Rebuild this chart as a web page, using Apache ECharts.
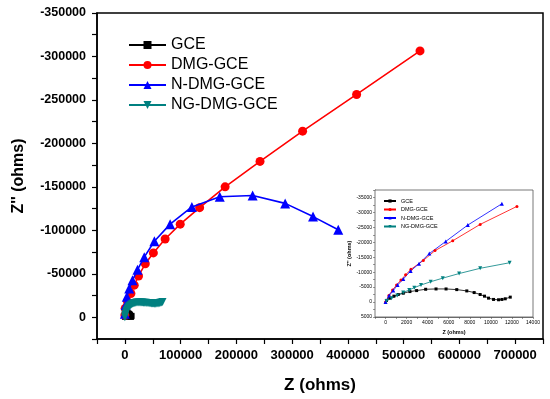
<!DOCTYPE html>
<html><head><meta charset="utf-8">
<script src="https://cdn.jsdelivr.net/npm/echarts@6/dist/echarts.min.js"></script>
<style>html,body{margin:0;padding:0;background:#fff}#c{width:550px;height:399px}</style>
</head><body><div id="c"></div>
<script>
const seriesNames = ['GCE', 'DMG-GCE', 'N-DMG-GCE', 'NG-DMG-GCE'];
const colors = ['#000000', '#ff0000', '#0000ff', '#008080'];
// [Z, Z''] pairs (main chart)
const gceMain = [[95,-548],[413,-1316],[794,-1974],[1206,-2522],[1683,-2961],[2317,-3509],[2952,-3838],[3810,-4276],[4794,-4386],[5746,-4386],[6762,-4167],[7714,-3728],[8413,-3180],[8984,-2522],[9397,-1974],[9778,-1316],[10254,-877],[10730,-768],[11048,-877],[11365,-1096],[11841,-1645]];
const dmgMain = [[0,-2500],[500,-10300],[4700,-17900],[10800,-27300],[16800,-36900],[24500,-47500],[36600,-61500],[51100,-74000],[72200,-90000],[99300,-107100],[134100,-126100],[179800,-150000],[242400,-179300],[318800,-214100],[415700,-256300],[529400,-306400]];
const ndmgMain = [[0,-4000],[1500,-14100],[3500,-23600],[7800,-33000],[13700,-42600],[22700,-54700],[34800,-69100],[52900,-87400],[81200,-107100],[120200,-126900],[170200,-138600],[229200,-140100],[287500,-131000],[337500,-115800],[382700,-100700]];
const ngdmgMain = [[0,0],[500,-2000],[1000,-3500],[2000,-5500],[3000,-7200],[4000,-8600],[5000,-10000],[6500,-11500],[8000,-12700],[9500,-13600],[11500,-14700],[13500,-15500],[15500,-16000],[17500,-16400],[19500,-16700],[21500,-16900],[23500,-17000],[25500,-17000],[27500,-17000],[29500,-17000],[31500,-16900],[33500,-16800],[35500,-16700],[37500,-16600],[39500,-16400],[41500,-16300],[43500,-16100],[45500,-16000],[47500,-15900],[49500,-15800],[51500,-15700],[53500,-15600],[55500,-15600],[57500,-15700],[59500,-15900],[61500,-16200],[63500,-16600],[65500,-17000],[67500,-17500]];
// inset chart data
const gceInset = gceMain;
const dmgInset = [[0,0],[317,-2193],[667,-4057],[1048,-5702],[1460,-7346],[1905,-9100],[2413,-10965],[3587,-13925],[4698,-17215],[6381,-20504],[8984,-25987],[12476,-32018]];
const ndmgInset = [[0,0],[349,-2193],[730,-3838],[1143,-5702],[1683,-7675],[2381,-10417],[3175,-12829],[4159,-16228],[5714,-20285],[7810,-25768],[11048,-32895]];
const ngdmgInset = [[95,-329],[571,-1316],[1111,-2193],[1683,-3180],[2254,-4057],[2730,-4825],[3365,-5702],[4286,-6798],[5429,-8004],[6984,-9539],[8984,-11294],[11778,-13158]];
const symbols = ['rect', 'circle', 'triangle', 'path://M0,0 L10,0 L5,10 Z'];

const FONT = 'Liberation Sans';
const chart = echarts.init(document.getElementById('c'), null, {renderer: 'canvas'});

const mainData = [gceMain, dmgMain, ndmgMain, ngdmgMain];
const insetData = [gceInset, dmgInset, ndmgInset, ngdmgInset];
const mainSizes = [6, 9, 10, 8];
const insetSizes = [3, 3, 4, 4];

const series = [];
mainData.forEach((d, i) => series.push({
  name: seriesNames[i], type: 'line', xAxisIndex: 0, yAxisIndex: 0, data: d,
  symbol: symbols[i], symbolSize: mainSizes[i], showSymbol: true,
  lineStyle: {color: colors[i], width: 1.6}, itemStyle: {color: colors[i]},
  animation: false, z: 3 + i
}));
insetData.forEach((d, i) => series.push({
  name: seriesNames[i], type: 'line', xAxisIndex: 1, yAxisIndex: 1, data: d,
  symbol: symbols[i], symbolSize: insetSizes[i], showSymbol: true,
  lineStyle: {color: colors[i], width: 0.8}, itemStyle: {color: colors[i]},
  animation: false, z: 10
}));

chart.setOption({
  backgroundColor: '#fff',
  animation: false,
  textStyle: {fontFamily: FONT},
  grid: [
    {left: 97, right: 7, top: 13, bottom: 57, show: true, borderColor: '#000', borderWidth: 1.5, backgroundColor: 'transparent'},
    {left: 375, top: 190, width: 158, height: 127, show: true, borderColor: '#555', borderWidth: 0.8, backgroundColor: '#fff', z: 5}
  ],
  legend: [
    {orient: 'vertical', left: 128, top: 37, padding: 0, itemWidth: 37, itemHeight: 10, itemGap: 4,
     data: seriesNames, textStyle: {fontSize: 16, color: '#000', fontFamily: FONT}, selectedMode: false},
    {orient: 'vertical', left: 378, top: 193, itemWidth: 12, itemHeight: 4, itemGap: 2.5, z: 20,
     data: seriesNames, textStyle: {fontSize: 5.5, color: '#000', fontFamily: FONT}, selectedMode: false}
  ],
  xAxis: [
    {type: 'value', gridIndex: 0, min: -50000, max: 750000, interval: 50000,
     name: 'Z (ohms)', nameLocation: 'middle', nameGap: 38,
     nameTextStyle: {fontSize: 17, fontWeight: 'bold', color: '#000', fontFamily: FONT},
     axisLine: {onZero: false, lineStyle: {color: '#000', width: 1.5}},
     axisTick: {inside: false, length: 5, lineStyle: {color: '#000', width: 1.2}},
     axisLabel: {margin: 10, fontSize: 13, fontWeight: 'bold', color: '#000', fontFamily: FONT,
       formatter: v => (v >= 0 && v % 100000 === 0) ? String(v) : ''},
     splitLine: {show: false}},
    {type: 'value', gridIndex: 1, min: -1000, max: 14000, interval: 1000,
     name: 'Z (ohms)', nameLocation: 'middle', nameGap: 12,
     nameTextStyle: {fontSize: 5.5, fontWeight: 'bold', color: '#000', fontFamily: FONT},
     axisLine: {onZero: false, lineStyle: {color: '#555', width: 0.8}},
     axisTick: {inside: false, length: 2, lineStyle: {color: '#555', width: 0.6}},
     axisLabel: {margin: 3, fontSize: 5, color: '#000', fontFamily: FONT,
       formatter: v => (v >= 0 && v % 2000 === 0) ? String(v) : ''},
     splitLine: {show: false}}
  ],
  yAxis: [
    {type: 'value', gridIndex: 0, inverse: true, min: -350000, max: 25000, interval: 25000,
     name: "Z'' (ohms)", nameLocation: 'middle', nameGap: 70, nameRotate: 90,
     nameTextStyle: {fontSize: 16, fontWeight: 'bold', color: '#000', fontFamily: FONT},
     axisLine: {onZero: false, lineStyle: {color: '#000', width: 1.5}},
     axisTick: {inside: false, length: 5, lineStyle: {color: '#000', width: 1.2}},
     axisLabel: {margin: 11, fontSize: 12.5, fontWeight: 'bold', color: '#000', fontFamily: FONT,
       formatter: v => (v <= 0 && v % 50000 === 0) ? String(v) : ''},
     splitLine: {show: false}},
    {type: 'value', gridIndex: 1, inverse: true, min: -37500, max: 5000, interval: 2500,
     name: "Z'' (ohms)", nameLocation: 'middle', nameGap: 22, nameRotate: 90,
     nameTextStyle: {fontSize: 5.5, fontWeight: 'bold', color: '#000', fontFamily: FONT},
     axisLine: {onZero: false, lineStyle: {color: '#555', width: 0.8}},
     axisTick: {inside: false, length: 2, lineStyle: {color: '#555', width: 0.6}},
     axisLabel: {margin: 3, fontSize: 5, color: '#000', fontFamily: FONT,
       formatter: v => (v % 5000 === 0) ? String(v) : ''},
     splitLine: {show: false}}
  ],
  series: series
});
</script></body></html>
